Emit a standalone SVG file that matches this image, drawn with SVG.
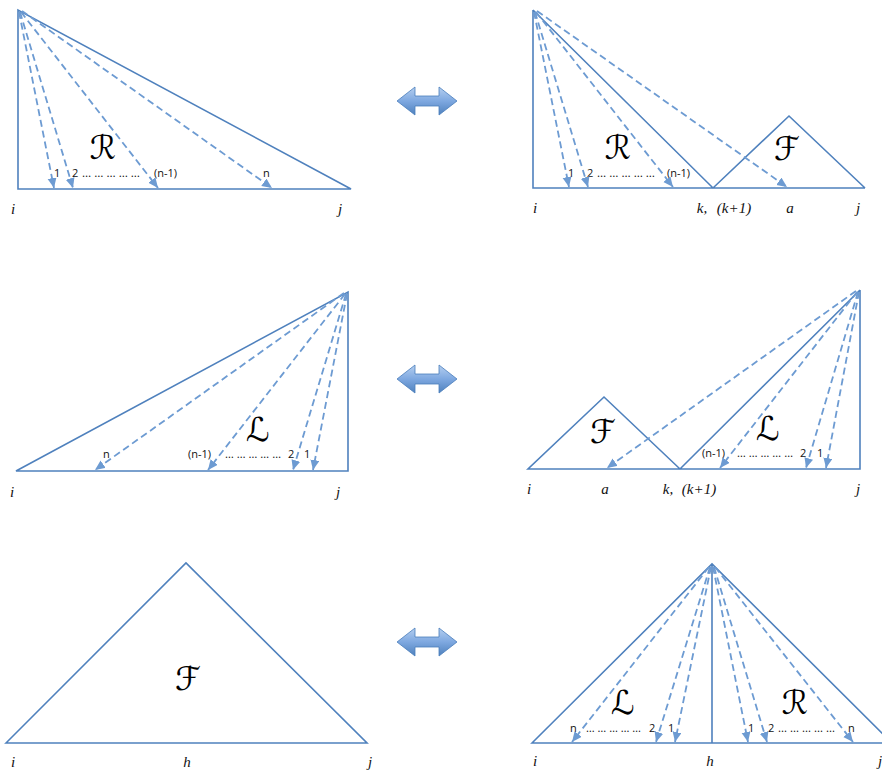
<svg xmlns="http://www.w3.org/2000/svg" width="882" height="774" viewBox="0 0 882 774">
<defs>
<style>
.s{fill:none;stroke:#4f81bd;stroke-width:1.6;stroke-linejoin:miter}
.d{fill:none;stroke:#6d9bd2;stroke-width:1.8;stroke-dasharray:7 4;marker-end:url(#ah)}
.n{font-family:"Open Sans","Liberation Sans",sans-serif;font-size:11px;fill:#111}
.v{font-family:"Liberation Serif",serif;font-style:italic;font-size:15px;fill:#111;text-anchor:middle}
.sc{font-family:"DejaVu Serif","DejaVu Sans","Noto Sans",serif;font-style:italic;font-size:33px;fill:#000;text-anchor:middle}
.dbl{fill:url(#g);stroke:#4a7ebb;stroke-width:0.8}
</style>
<marker id="ah" markerUnits="userSpaceOnUse" markerWidth="12" markerHeight="10" refX="10" refY="4.5" orient="auto" viewBox="0 0 12 10">
<path d="M0,0 L10,4.5 L0,9 Z" fill="#6d9bd2"/>
</marker>
<linearGradient id="g" x1="0" y1="0" x2="0" y2="1">
<stop offset="0" stop-color="#b5cff0"/>
<stop offset="0.5" stop-color="#7ea8e0"/>
<stop offset="1" stop-color="#4f81bd"/>
</linearGradient>
<path id="da" d="M0,14 L18,0 L18,9 L42,9 L42,0 L60,14 L42,28 L42,19 L18,19 L18,28 Z"/>
</defs>
<rect width="882" height="774" fill="#fff"/>

<g id="panel1">
<path class="s" d="M18,10 L18,189 L351,189 Z"/>
<text class="sc" x="103" y="159">ℛ</text>
<text class="n" x="54" y="177">1</text>
<text class="n" x="72" y="177">2</text>
<text class="n" x="82" y="177" textLength="58" lengthAdjust="spacingAndGlyphs">… … … … …</text>
<text class="n" x="154" y="177">(n-1)</text>
<text class="n" x="263" y="177">n</text>
<text class="v" x="13" y="214">i</text>
<text class="v" x="340" y="214">j</text>
</g>

<g id="panel2">
<path class="s" d="M533,10 L533,188 L865,188 M533,10 L713,188 L789,116 L865,188"/>
<text class="sc" x="618" y="159">ℛ</text>
<text class="sc" x="787" y="160">ℱ</text>
<text class="n" x="568" y="177">1</text>
<text class="n" x="587" y="177">2</text>
<text class="n" x="597" y="177" textLength="58" lengthAdjust="spacingAndGlyphs">… … … … …</text>
<text class="n" x="667" y="177">(n-1)</text>
<text class="v" x="535" y="213">i</text>
<text class="v" x="702" y="213">k,</text>
<text class="v" x="734" y="213">(k+1)</text>
<text class="v" x="790" y="213">a</text>
<text class="v" x="858" y="213">j</text>
</g>

<g id="panel3">
<path class="s" d="M348,292 L348,471 L16,471 Z"/>
<text class="sc" x="258" y="441">ℒ</text>
<text class="n" x="103" y="458">n</text>
<text class="n" x="188" y="458">(n-1)</text>
<text class="n" x="225" y="458" textLength="56" lengthAdjust="spacingAndGlyphs">… … … … …</text>
<text class="n" x="288" y="458">2</text>
<text class="n" x="304" y="458">1</text>
<text class="v" x="12" y="497">i</text>
<text class="v" x="338" y="497">j</text>
</g>

<g id="panel4">
<path class="s" d="M860,290 L860,469 L528,469 L604,397 L680,469 L860,290"/>
<text class="sc" x="603" y="443">ℱ</text>
<text class="sc" x="768" y="440">ℒ</text>
<text class="n" x="702" y="457">(n-1)</text>
<text class="n" x="737" y="457" textLength="56" lengthAdjust="spacingAndGlyphs">… … … … …</text>
<text class="n" x="800" y="457">2</text>
<text class="n" x="817" y="457">1</text>
<text class="v" x="529" y="494">i</text>
<text class="v" x="605" y="494">a</text>
<text class="v" x="668" y="494">k,</text>
<text class="v" x="699" y="494">(k+1)</text>
<text class="v" x="858" y="494">j</text>
</g>

<g id="panel5">
<path class="s" d="M6,743 L186,563 L367,743 Z"/>
<text class="sc" x="188" y="690">ℱ</text>
<text class="v" x="13" y="767">i</text>
<text class="v" x="187" y="767">h</text>
<text class="v" x="370" y="767">j</text>
</g>

<g id="panel6">
<path class="s" d="M532,743 L712,564 L892,743 Z M712,564 L712,743"/>
<text class="sc" x="623" y="714">ℒ</text>
<text class="sc" x="795" y="714">ℛ</text>
<text class="n" x="570" y="732">n</text>
<text class="n" x="586" y="732" textLength="55" lengthAdjust="spacingAndGlyphs">… … … … …</text>
<text class="n" x="649" y="732">2</text>
<text class="n" x="668" y="732">1</text>
<text class="n" x="748" y="732">1</text>
<text class="n" x="768" y="732">2</text>
<text class="n" x="778" y="732" textLength="57" lengthAdjust="spacingAndGlyphs">… … … … …</text>
<text class="n" x="848" y="732">n</text>
<text class="v" x="535" y="766">i</text>
<text class="v" x="710" y="766">h</text>
<text class="v" x="880" y="766">j</text>
</g>

<g id="equiv-arrows">
<use href="#da" class="dbl" x="397" y="87"/>
<use href="#da" class="dbl" x="397" y="365"/>
<use href="#da" class="dbl" x="397" y="628"/>
</g>

<g id="connectors">
<line class="d" x1="19" y1="12" x2="54" y2="188"/>
<line class="d" x1="20" y1="12" x2="73" y2="188"/>
<line class="d" x1="21" y1="12" x2="158" y2="188"/>
<line class="d" x1="22" y1="11" x2="272" y2="188"/>

<line class="d" x1="534" y1="12" x2="569" y2="187"/>
<line class="d" x1="535" y1="12" x2="588" y2="187"/>
<line class="d" x1="536" y1="12" x2="673" y2="187"/>
<line class="d" x1="537" y1="11" x2="787" y2="187"/>

<line class="d" x1="347" y1="294" x2="313" y2="470"/>
<line class="d" x1="346" y1="294" x2="293" y2="470"/>
<line class="d" x1="345" y1="294" x2="208" y2="470"/>
<line class="d" x1="344" y1="293" x2="95" y2="470"/>

<line class="d" x1="859" y1="292" x2="826" y2="468"/>
<line class="d" x1="858" y1="292" x2="806" y2="468"/>
<line class="d" x1="857" y1="292" x2="720" y2="468"/>
<line class="d" x1="856" y1="291" x2="607" y2="468"/>

<line class="d" x1="709" y1="567" x2="572" y2="742"/>
<line class="d" x1="710" y1="567" x2="656" y2="742"/>
<line class="d" x1="711" y1="567" x2="675" y2="742"/>
<line class="d" x1="713" y1="567" x2="748" y2="742"/>
<line class="d" x1="714" y1="567" x2="767" y2="742"/>
<line class="d" x1="715" y1="567" x2="853" y2="742"/>
</g>
</svg>
